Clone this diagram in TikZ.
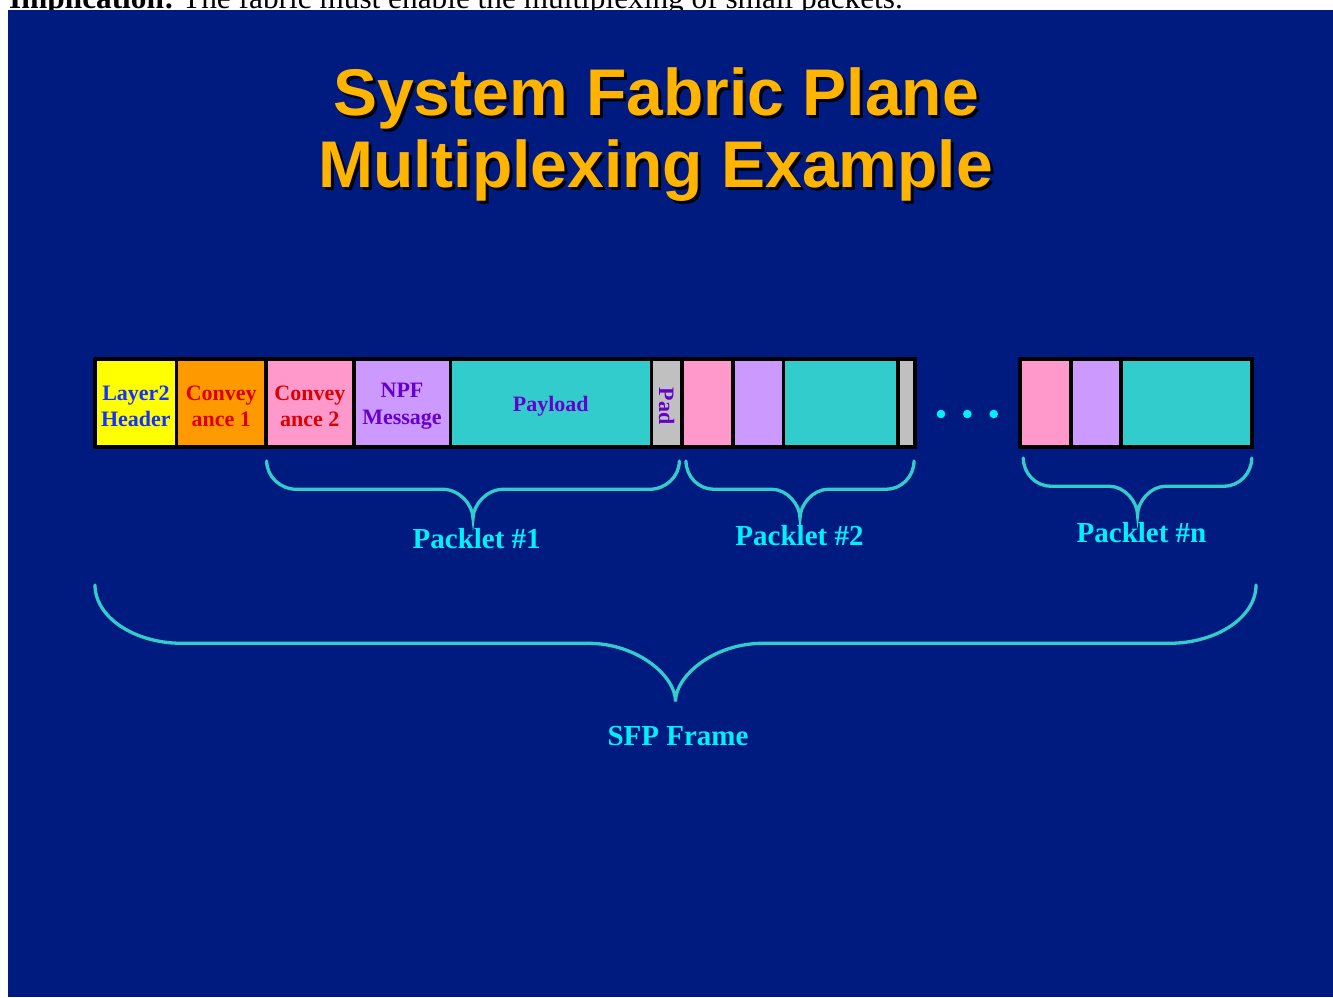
\documentclass[tikz,border=0pt]{standalone}
\usepackage{fontspec}
\setmainfont{Liberation Serif}
\newfontfamily\titlefont{Liberation Sans}
\frenchspacing

% slide palette
\definecolor{slidebg}{RGB}{0,27,128}
\definecolor{titlegold}{RGB}{255,180,0}
\definecolor{cyellow}{RGB}{255,255,0}
\definecolor{corange}{RGB}{255,153,0}
\definecolor{cpink}{RGB}{255,153,204}
\definecolor{clav}{RGB}{204,153,255}
\definecolor{cteal}{RGB}{51,204,204}
\definecolor{cgray}{RGB}{192,192,192}
\definecolor{tblue}{RGB}{20,50,255}
\definecolor{tred}{RGB}{220,0,0}
\definecolor{tpurple}{RGB}{102,0,204}
\definecolor{lblcyan}{RGB}{0,240,255}
\definecolor{bracecol}{RGB}{51,204,204}

% one segment of the frame: name, left edge, right edge, fill, text colour, text
\newcommand\frameseg[6]{%
  \pgfmathsetmacro\segc{(#2+#3)/2}%
  \pgfmathsetmacro\segw{#3-#2}%
  \node[cell, fill=#4, minimum width=\segw pt] (#1) at (\segc,403.15) {};
  \node[celltext, text=#5] (#1-text) at ([yshift=-3pt]#1.center) {#6};}

% curly brace opening downwards: left x, right x, top y, bar y, tip y, corner width
\newcommand\curlybrace[6]{%
  \pgfmathsetmacro\cbc{(#1+#2)/2}%
  \draw[brace] (#1,#3)
    .. controls (#1,{#3+0.55*(#4-#3)}) and ({#1+0.45*#6},#4) .. ({#1+#6},#4)
    -- ({\cbc-#6},#4)
    .. controls ({\cbc-0.45*#6},#4) and (\cbc,{#5-0.45*(#5-#4)}) .. (\cbc,#5)
    .. controls (\cbc,{#5-0.45*(#5-#4)}) and ({\cbc+0.45*#6},#4) .. ({\cbc+#6},#4)
    -- ({#2-#6},#4)
    .. controls ({#2-0.45*#6},#4) and (#2,{#3+0.55*(#4-#3)}) .. (#2,#3);}

\begin{document}
\begin{tikzpicture}[x=1pt,y=-1pt,
  titletext/.style={anchor=base, inner sep=0,
    font=\titlefont\bfseries\fontsize{66}{72}\selectfont},
  cell/.style={draw=black, line width=3.6pt, outer sep=0, inner sep=0,
    minimum height=88.3pt},
  celltext/.style={inner sep=0, align=center,
    font=\bfseries\fontsize{22}{26.5}\selectfont},
  outline/.style={draw=black, line width=4pt, line join=round},
  dot/.style={circle, fill=lblcyan, inner sep=0, minimum size=8.6pt},
  brace/.style={draw=bracecol, line width=3.3pt, line cap=round},
  lbl/.style={anchor=base, inner sep=0, text=lblcyan,
    font=\bfseries\fontsize{29}{34}\selectfont}]

\useasboundingbox (0,0) rectangle (1333,997);
\clip (0,0) rectangle (1333,997);
\fill[white] (0,0) rectangle (1333,997);

% running text above the slide
\node[anchor=base west, inner sep=0, font=\fontsize{31.3}{36}\selectfont]
  (note) at (9,8) {\textbf{Implication:} The fabric must enable the multiplexing of small packets.};

% slide
\fill[slidebg] (8,10) rectangle (1333,997);

% title with drop shadow
\node[titletext, text=black] (title1s) at (659,118) {System Fabric Plane};
\node[titletext, text=titlegold] (title1) at (656,115) {System Fabric Plane};
\node[titletext, text=black] (title2s) at (658.5,190) {Multiplexing Example};
\node[titletext, text=titlegold] (title2) at (655.5,187) {Multiplexing Example};

% frame: header, packlet 1, start of packlet 2
\frameseg{l2}{95.3}{176.5}{cyellow}{tblue}{Layer2\\Header}
\frameseg{conv1}{176.5}{266}{corange}{tred}{Convey\\ance 1}
\frameseg{conv2}{266}{353.7}{cpink}{tred}{Convey\\ance 2}
\frameseg{npf}{353.7}{450.3}{clav}{tpurple}{NPF\\Message}
\frameseg{pay}{450.3}{651.3}{cteal}{tpurple}{Payload}
\frameseg{pad}{651.3}{682}{cgray}{tpurple}{\rotatebox{-90}{Pad}}
\frameseg{conv3}{682}{732.7}{cpink}{black}{}
\frameseg{npf2}{732.7}{783.3}{clav}{black}{}
\frameseg{pay2}{783.3}{898}{cteal}{black}{}
\frameseg{pad2}{898}{915.3}{cgray}{black}{}
\draw[outline] (l2.north west) rectangle (pad2.south east);

% ellipsis
\node[dot] (dot1) at (941,414) {};
\node[dot] (dot2) at (967.3,414) {};
\node[dot] (dot3) at (993.7,414) {};

% last packlet
\frameseg{convn}{1020.3}{1070.8}{cpink}{black}{}
\frameseg{npfn}{1070.8}{1121}{clav}{black}{}
\frameseg{payn}{1121}{1251.8}{cteal}{black}{}
\draw[outline] (convn.north west) rectangle (payn.south east);

% braces and their labels
\curlybrace{266.7}{679.3}{461}{489.3}{518.3}{30}
\node[lbl] (pk1) at (476.7,548.3) {Packlet \#1};
\curlybrace{686}{914}{461}{489.3}{518}{28}
\node[lbl] (pk2) at (799.5,545) {Packlet \#2};
\curlybrace{1023.3}{1251.7}{458}{486.3}{515}{28}
\node[lbl] (pkn) at (1141.5,542) {Packlet \#n};
\curlybrace{95}{1256}{585}{643.3}{701.5}{87}
\node[lbl] (sfp) at (678,745) {SFP Frame};

\end{tikzpicture}
\end{document}
